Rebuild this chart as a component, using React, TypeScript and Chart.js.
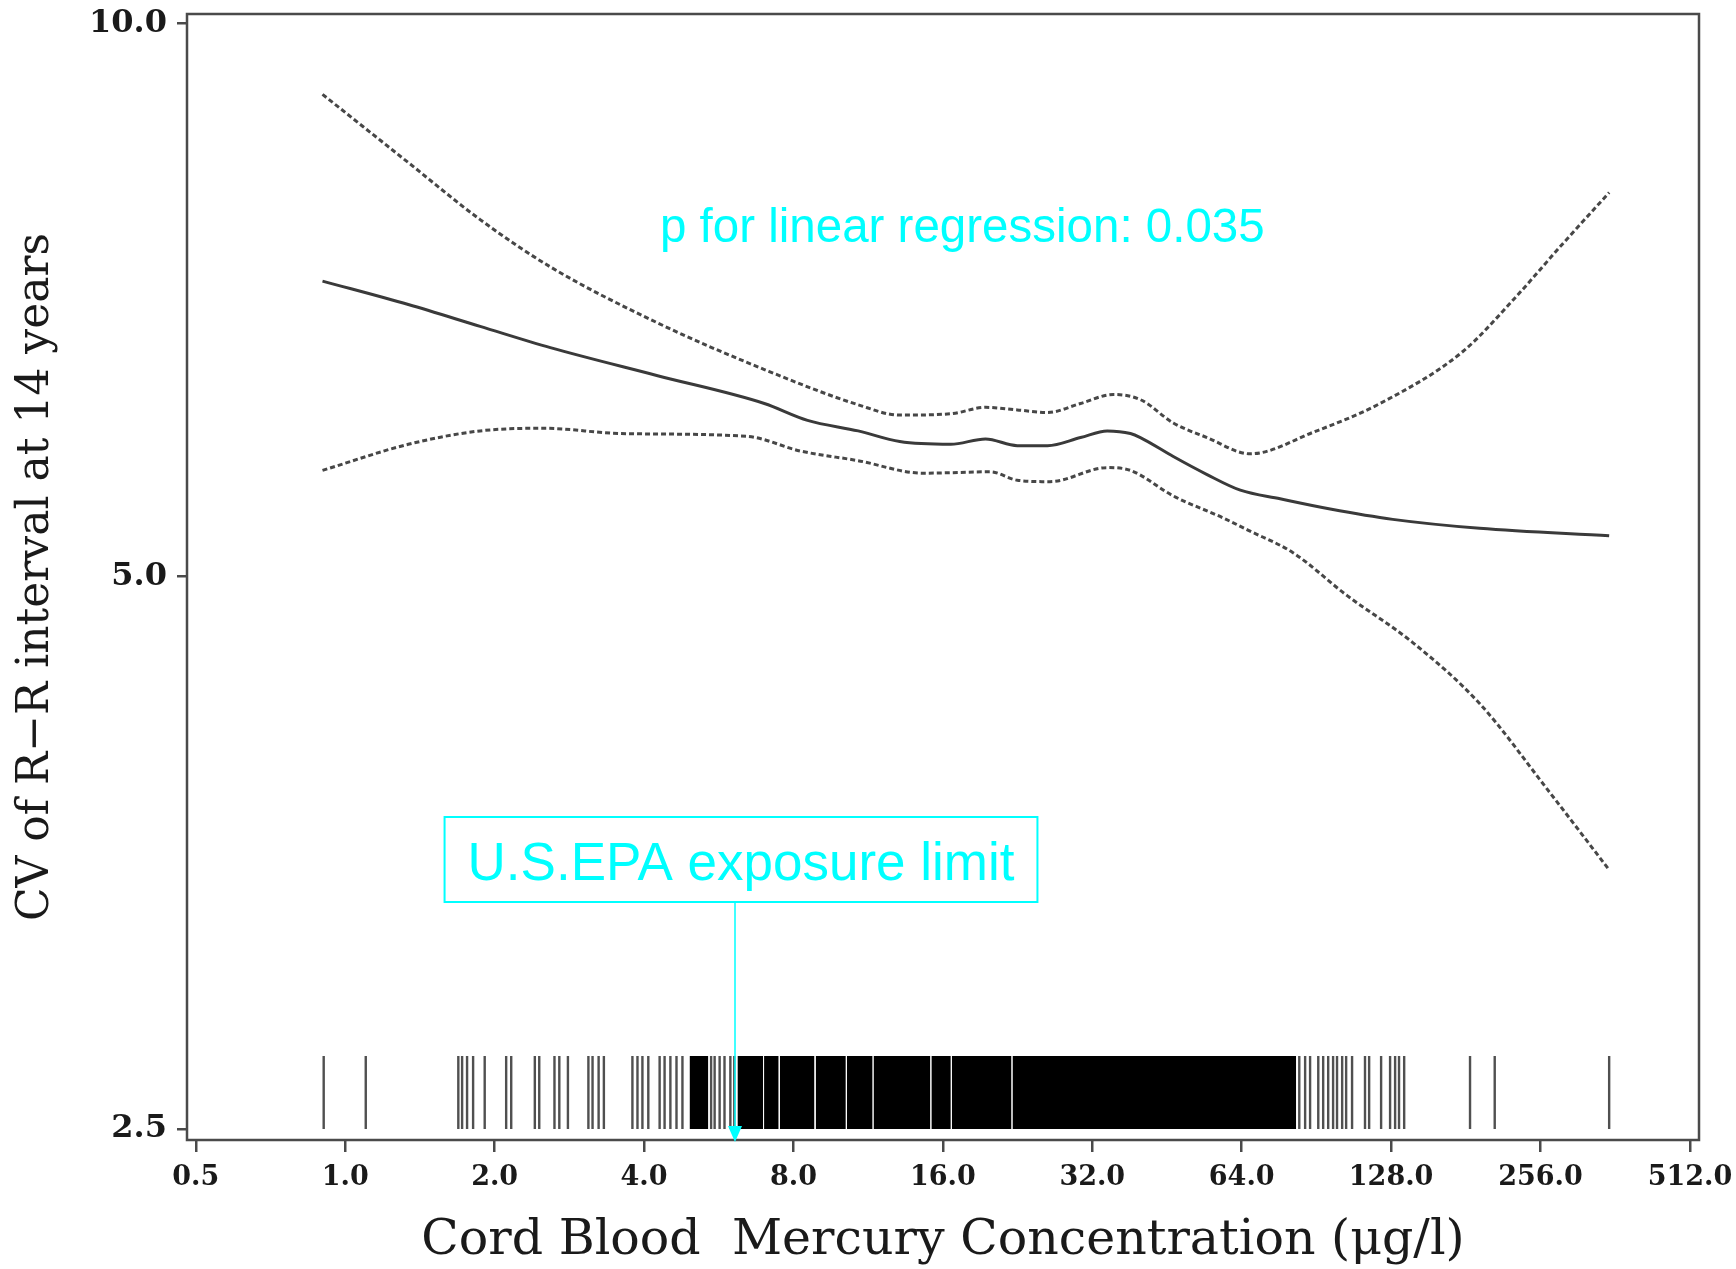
import React, { useEffect, useRef } from "react";
import { Chart, registerables } from "chart.js";

Chart.register(...registerables);

// ---------- data ----------
const xTickValues = [0.5, 1, 2, 4, 8, 16, 32, 64, 128, 256, 512];
const yTickValues = [2.5, 5, 10];
const xLimits = [0.48, 534];
const yLimits = [2.466, 10.12];

const xTitle = "Cord Blood  Mercury Concentration (\u03BCg/l)";
const yTitle = "CV of R\u2212R interval at 14 years";

// fitted curve
const fitX = [0.9, 1.34, 1.87, 2.59, 4.26, 6.99, 8.54, 10.8, 13.1, 16.6, 19.5, 22.6, 26.0, 30.3, 34.3, 38.2, 40.0, 46.6, 54.5, 63.6, 76.5, 96.5, 129, 193, 352];
const fitY = [7.24, 7.03, 6.84, 6.66, 6.43, 6.21, 6.08, 6.0, 5.92, 5.9, 5.94, 5.89, 5.89, 5.95, 6.0, 5.98, 5.95, 5.81, 5.68, 5.57, 5.51, 5.44, 5.37, 5.31, 5.26];

// upper confidence band
const upperX = [0.9, 1.34, 1.87, 2.59, 4.26, 6.99, 10.8, 13.1, 16.6, 19.5, 22.6, 26.0, 30.3, 35.3, 40.0, 46.6, 54.5, 66.6, 89.2, 121.6, 178.8, 225.4, 284.2, 352];
const upperY = [9.15, 8.4, 7.82, 7.37, 6.87, 6.48, 6.2, 6.12, 6.13, 6.18, 6.16, 6.14, 6.21, 6.28, 6.24, 6.06, 5.95, 5.83, 5.99, 6.21, 6.63, 7.07, 7.59, 8.09];

// lower confidence band
const lowerX = [0.9, 1.34, 1.87, 2.51, 3.6, 6.43, 8.27, 10.8, 14.6, 19.95, 22.6, 26.3, 34.3, 38.2, 46.6, 58.7, 65.7, 81.2, 104.4, 141.7, 193.4, 263.8, 352];
const lowerY = [5.71, 5.9, 6.0, 6.02, 5.98, 5.96, 5.85, 5.78, 5.69, 5.7, 5.64, 5.63, 5.73, 5.71, 5.53, 5.38, 5.3, 5.15, 4.88, 4.6, 4.26, 3.83, 3.46];

// rug: single observations
const rugObs = [0.905, 1.1, 1.69, 1.72, 1.76, 1.81, 1.91, 2.11, 2.16, 2.41, 2.46, 2.64, 2.7, 2.81, 3.09, 3.15, 3.24, 3.32, 3.79, 3.88, 3.97, 4.08, 4.3, 4.4, 4.52, 4.65, 4.78, 5.46, 5.55, 5.68, 5.81, 5.97, 6.08, 83.6, 85.9, 87.9, 91.3, 93.4, 95.6, 97.8, 99.6, 102.0, 103.9, 106.8, 113.4, 115.6, 122.2, 127.4, 130.4, 132.8, 136.0, 184.6, 207, 352];
// rug: ranges so dense that they print as solid black
const rugBlockStart = [4.94, 6.17, 6.98, 7.51, 8.87, 10.25, 11.6, 15.17, 16.68, 22.1];
const rugBlockEnd = [5.39, 6.95, 7.47, 8.82, 10.2, 11.55, 15.1, 16.6, 22.0, 82.4];
const rugBottom = 2.5;
const rugTop = 2.74;

const epaLimit = 6.1;
const pText = "p for linear regression: 0.035";
const epaText = "U.S.EPA exposure limit";

// ---------- plugins ----------
const framePlugin = {
  id: "frame",
  afterDatasetsDraw(chart: any) {
    const { ctx, chartArea: a } = chart;
    ctx.save();
    ctx.strokeStyle = "#4a4a4a";
    ctx.lineWidth = 2.5;
    ctx.strokeRect(a.left, a.top, a.right - a.left, a.bottom - a.top);
    ctx.restore();
  },
};

const annotationPlugin = {
  id: "annotations",
  afterDraw(chart: any) {
    const { ctx, chartArea: a, scales } = chart;
    const cyan = "#00FFFF";
    ctx.save();
    ctx.fillStyle = cyan;
    ctx.strokeStyle = cyan;
    ctx.textBaseline = "alphabetic";

    // p-value text
    ctx.font = '47.5px "Liberation Sans", Arial, sans-serif';
    ctx.textAlign = "left";
    ctx.fillText(pText, 660, 241.5);

    // EPA box
    const ax = scales.x.getPixelForValue(epaLimit);
    ctx.font = '53px "Liberation Sans", Arial, sans-serif';
    const tw = ctx.measureText(epaText).width;
    const boxW = tw + 46;
    const boxTop = 817;
    const boxBottom = 902;
    const boxCx = ax + 6;
    ctx.lineWidth = 2;
    ctx.strokeRect(boxCx - boxW / 2, boxTop, boxW, boxBottom - boxTop);
    ctx.textAlign = "center";
    ctx.fillText(epaText, boxCx, 880);

    // arrow
    ctx.lineWidth = 1.5;
    ctx.beginPath();
    ctx.moveTo(ax, boxBottom);
    ctx.lineTo(ax, a.bottom - 12);
    ctx.stroke();
    ctx.beginPath();
    ctx.moveTo(ax - 7, a.bottom - 14);
    ctx.lineTo(ax + 7, a.bottom - 14);
    ctx.lineTo(ax, a.bottom + 2);
    ctx.closePath();
    ctx.fill();
    ctx.restore();
  },
};

const pts = (xs: number[], ys: number[]) => xs.map((x, i) => ({ x, y: ys[i] }));

export default function App() {
  const ref = useRef<HTMLCanvasElement>(null);

  useEffect(() => {
    const rugData = rugObs.flatMap((v) => [
      { x: v, y: rugBottom },
      { x: v, y: rugTop },
      { x: v, y: null as any },
    ]);

    const blockSets = rugBlockStart.map((s, i) => ({
      type: "line" as const,
      data: [
        { x: s, y: rugTop },
        { x: rugBlockEnd[i], y: rugTop },
      ],
      borderWidth: 0,
      borderColor: "rgba(0,0,0,0)",
      backgroundColor: "#000",
      pointRadius: 0,
      fill: { value: rugBottom },
      tension: 0,
    }));

    const curveBase = {
      pointRadius: 0,
      borderWidth: 3,
      fill: false,
      cubicInterpolationMode: "monotone" as const,
    };

    const tickFont = (size: number) => ({ family: "'DejaVu Serif', serif", size, weight: "bold" as const, lineHeight: 1.2 });

    const chart = new Chart(ref.current as HTMLCanvasElement, {
      type: "line",
      data: {
        datasets: [
          ...blockSets,
          {
            data: rugData,
            borderColor: "#505050",
            borderWidth: 2.4,
            pointRadius: 0,
            spanGaps: false,
            fill: false,
            tension: 0,
          },
          { ...curveBase, data: pts(upperX, upperY), borderColor: "#474747", borderDash: [5, 3] },
          { ...curveBase, data: pts(lowerX, lowerY), borderColor: "#474747", borderDash: [5, 3] },
          { ...curveBase, data: pts(fitX, fitY), borderColor: "#3a3a3a" },
        ] as any,
      },
      options: {
        responsive: false,
        animation: false,
        devicePixelRatio: 1,
        layout: { padding: { left: 0, right: 37, top: 14, bottom: 0 } },
        plugins: {
          legend: { display: false },
          tooltip: { enabled: false },
        },
        scales: {
          x: {
            type: "logarithmic",
            min: xLimits[0],
            max: xLimits[1],
            bounds: "data",
            afterBuildTicks: (s: any) => {
              s.ticks = xTickValues.map((v) => ({ value: v }));
            },
            afterFit: (s: any) => {
              s.height = 129;
              s.paddingLeft = 0;
              s.paddingRight = 0;
            },
            ticks: {
              autoSkip: false,
              maxRotation: 0,
              minRotation: 0,
              padding: 10,
              color: "#1a1a1a",
              font: tickFont(27),
              callback: (v: any) => Number(v).toFixed(1),
            },
            grid: {
              display: true,
              drawOnChartArea: false,
              drawTicks: true,
              tickLength: 12,
              tickWidth: 2.5,
              tickColor: "#4a4a4a",
              color: "#4a4a4a",
              lineWidth: 2.5,
            },
            border: { display: false },
            title: {
              display: true,
              text: xTitle,
              color: "#1a1a1a",
              font: { family: "'DejaVu Serif', serif", size: 49, lineHeight: 1 },
              padding: { top: 0, bottom: 3.5 },
            },
          },
          y: {
            type: "logarithmic",
            min: yLimits[0],
            max: yLimits[1],
            bounds: "data",
            afterBuildTicks: (s: any) => {
              s.ticks = yTickValues.map((v) => ({ value: v }));
            },
            afterFit: (s: any) => {
              s.width = 187;
              s.paddingTop = 0;
              s.paddingBottom = 0;
            },
            ticks: {
              autoSkip: false,
              padding: 10,
              color: "#1a1a1a",
              font: tickFont(32),
              callback: (v: any) => Number(v).toFixed(1),
            },
            grid: {
              display: true,
              drawOnChartArea: false,
              drawTicks: true,
              tickLength: 10,
              tickWidth: 2.5,
              tickColor: "#4a4a4a",
              color: "#4a4a4a",
              lineWidth: 2.5,
            },
            border: { display: false },
            title: {
              display: true,
              text: yTitle,
              color: "#1a1a1a",
              font: { family: "'DejaVu Serif', serif", size: 44, lineHeight: 1 },
              padding: { top: 14.5, bottom: 0 },
            },
          },
        },
      } as any,
      plugins: [framePlugin, annotationPlugin],
    });

    return () => chart.destroy();
  }, []);

  return (
    <div style={{ position: "absolute", left: 0, top: 0, width: 1736, height: 1269, background: "#fff" }}>
      <canvas ref={ref} width={1736} height={1269} style={{ display: "block" }} />
    </div>
  );
}
